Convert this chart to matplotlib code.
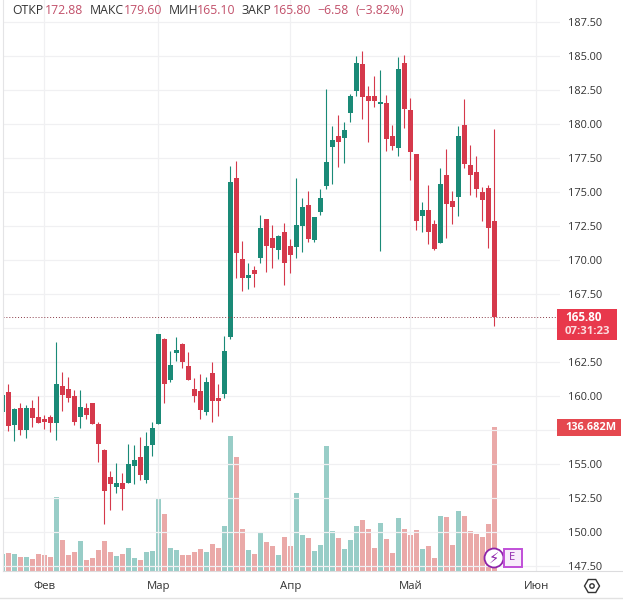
import matplotlib
matplotlib.use('Agg')
import matplotlib.pyplot as plt
from matplotlib.lines import Line2D
from matplotlib.patches import Circle, Rectangle, RegularPolygon

# daily candles, first one is cut by the left edge of the chart
opens = [158.82, 160.25, 157.84, 159.07, 157.50, 159.07, 158.41, 158.26, 158.41, 158.01, 160.69, 160.47, 159.95, 158.45, 159.07, 159.44, 157.94, 156.00, 153.99, 153.30, 153.55, 153.55, 154.85, 155.46, 153.82, 156.39, 157.94, 164.15, 161.15, 163.16, 163.80, 162.18, 160.47, 160.32, 158.82, 161.64, 159.83, 160.12, 164.34, 176.02, 170.06, 168.69, 169.25, 170.16, 173.00, 171.61, 170.72, 172.05, 171.02, 170.97, 172.51, 174.01, 171.46, 173.52, 175.43, 178.33, 179.09, 178.99, 180.80, 182.45, 184.41, 182.06, 182.06, 181.49, 181.54, 179.11, 178.25, 184.48, 181.00, 177.79, 173.25, 173.64, 172.64, 171.26, 176.24, 174.30, 174.65, 179.92, 176.98, 176.44, 174.99, 175.26, 172.88]
highs = [160.30, 160.86, 159.07, 159.44, 159.29, 159.68, 159.95, 158.58, 158.58, 163.95, 161.74, 161.35, 160.42, 160.42, 159.44, 159.44, 158.09, 156.05, 154.43, 155.02, 154.28, 156.42, 156.34, 156.96, 157.30, 158.04, 164.54, 164.24, 163.29, 164.32, 163.90, 163.19, 161.28, 161.57, 161.35, 162.45, 160.83, 164.37, 176.90, 177.27, 171.38, 169.74, 169.52, 173.30, 173.00, 172.56, 171.83, 172.68, 171.53, 176.02, 174.55, 175.04, 173.18, 175.19, 182.57, 179.85, 180.63, 180.14, 182.20, 185.00, 185.37, 182.79, 183.50, 183.97, 182.10, 179.92, 184.90, 185.05, 181.88, 177.79, 174.25, 175.48, 172.93, 176.73, 178.13, 175.06, 179.85, 181.83, 178.45, 177.64, 175.33, 175.50, 179.60]
lows = [158.60, 157.42, 156.69, 157.13, 156.88, 157.72, 158.01, 157.57, 157.35, 156.76, 158.90, 159.56, 157.87, 157.65, 158.31, 157.91, 155.14, 150.58, 151.59, 152.86, 151.61, 153.55, 153.52, 153.79, 153.55, 155.58, 157.94, 159.48, 160.98, 162.55, 162.06, 161.15, 159.56, 158.31, 158.60, 158.09, 158.53, 159.85, 164.19, 168.69, 167.73, 167.88, 168.02, 169.79, 169.13, 169.42, 170.08, 168.15, 169.05, 170.16, 170.60, 171.34, 171.34, 173.32, 175.24, 175.60, 176.85, 177.15, 180.14, 182.08, 180.39, 178.69, 181.27, 170.67, 178.03, 178.11, 177.66, 179.72, 175.90, 172.22, 172.07, 171.16, 170.72, 171.21, 171.63, 172.66, 173.25, 176.78, 174.79, 174.65, 172.88, 170.89, 165.10]
closes = [160.05, 157.79, 159.02, 157.50, 159.07, 158.38, 158.01, 158.06, 158.01, 160.83, 160.07, 159.85, 158.09, 159.14, 158.60, 157.94, 156.47, 153.01, 153.52, 153.55, 153.13, 154.97, 155.24, 154.19, 156.27, 157.60, 164.54, 160.88, 162.23, 163.34, 162.50, 161.18, 160.00, 158.97, 160.98, 159.63, 159.63, 163.26, 175.73, 170.53, 168.69, 168.88, 168.98, 172.34, 171.02, 170.87, 171.75, 169.79, 170.35, 172.56, 173.89, 171.56, 173.15, 174.52, 177.20, 178.79, 178.67, 179.53, 182.06, 184.48, 182.01, 181.71, 181.69, 181.61, 178.92, 178.40, 184.04, 181.12, 177.96, 172.88, 173.64, 172.07, 170.80, 175.58, 174.13, 173.91, 179.11, 177.08, 176.27, 175.24, 174.43, 172.37, 165.80]
volumes = [15.8, 17.1, 16.1, 13.6, 13.6, 11.4, 16.1, 15.2, 13.6, 70.2, 29.4, 15.2, 18.0, 28.5, 10.4, 12.3, 19.9, 28.5, 18.0, 14.2, 16.1, 21.8, 12.3, 10.4, 18.0, 19.0, 68.3, 54.1, 21.8, 19.9, 15.2, 15.2, 18.0, 20.9, 18.0, 25.6, 21.8, 42.7, 128.1, 108.2, 39.9, 19.9, 16.1, 37.0, 27.5, 23.7, 15.2, 32.3, 23.7, 74.0, 34.2, 31.3, 19.0, 24.7, 118.7, 38.0, 31.3, 20.9, 29.4, 42.7, 48.4, 39.9, 21.8, 45.6, 30.4, 17.1, 50.3, 39.9, 34.2, 38.9, 20.9, 23.7, 12.3, 52.2, 51.3, 24.7, 57.0, 52.2, 38.0, 35.1, 32.3, 44.6, 136.682]
is_up = [1, 0, 1, 0, 1, 0, 0, 0, 0, 1, 0, 0, 0, 1, 0, 0, 0, 0, 0, 1, 0, 1, 1, 0, 1, 1, 1, 0, 1, 1, 0, 0, 0, 0, 1, 0, 0, 1, 1, 0, 0, 1, 0, 1, 0, 0, 1, 0, 0, 1, 1, 0, 1, 1, 1, 1, 0, 1, 1, 1, 0, 0, 0, 1, 0, 0, 1, 0, 0, 0, 1, 0, 0, 1, 0, 0, 1, 0, 0, 0, 0, 0, 0]

price_ticks = [147.5, 150, 152.5, 155, 157.5, 160, 162.5, 165, 167.5, 170, 172.5, 175, 177.5, 180, 182.5, 185, 187.5]
price_labels = ['147.50', '150.00', '152.50', '155.00', '', '160.00', '162.50', '', '167.50', '170.00', '172.50', '175.00', '177.50', '180.00', '182.50', '185.00', '187.50']
month_ticks = [6, 25, 47, 67, 88]
month_labels = ['Фев', 'Мар', 'Апр', 'Май', 'Июн']
last_price = 165.80

GREEN = '#1a8a77'
RED = '#d5394b'
GREEN_VOL = '#98cdc7'
RED_VOL = '#eaa9a8'
GRID = '#f0f0f2'
TEXT = '#333333'
PINK = '#c2506a'
PURPLE = '#8e24aa'
FONT = 'Open Sans'

W, H = 623, 600
plt.rcParams['font.family'] = [FONT, 'DejaVu Sans']


def fx(px):
    return px / W


def fy(py):
    return 1 - py / H


fig = plt.figure(figsize=(W / 100, H / 100), dpi=100, facecolor='white')
pos = [fx(3), fy(571), fx(557), 571 / H]

ax_vol = fig.add_axes(pos, zorder=0)
ax = fig.add_axes(pos, zorder=0.5)
ax.patch.set_alpha(0)

x = [i - 1 for i in range(len(opens))]
colors = [GREEN if u else RED for u in is_up]
vol_colors = [GREEN_VOL if u else RED_VOL for u in is_up]

ax_vol.bar(x, volumes, width=5 / 6, color=vol_colors, linewidth=0)
ax_vol.set_ylim(0, 542)
ax_vol.set_xlim(-0.888, 91.945)
ax_vol.axis('off')

bottoms = [min(o, c) for o, c in zip(opens, closes)]
heights = [abs(c - o) for o, c in zip(opens, closes)]
ax.vlines(x, lows, highs, colors=colors, linewidth=0.8)
ax.bar(x, heights, bottom=bottoms, width=5 / 6, color=colors, linewidth=0)
ax.axhline(last_price, color='#8a3b48', linewidth=0.7, linestyle=(0, (1, 2)), zorder=1)

ax.set_xlim(-0.888, 91.945)
ax.set_ylim(147.10, 189.12)
ax.set_axisbelow(True)
ax.grid(True, color=GRID, linewidth=0.9)
ax.yaxis.tick_right()
ax.set_yticks(price_ticks)
ax.set_yticklabels(price_labels, fontsize=7.9, color=TEXT)
ax.set_xticks(month_ticks)
ax.set_xticklabels(month_labels, fontsize=8.2, color=TEXT)
ax.tick_params(axis='y', length=0, pad=6)
ax.tick_params(axis='x', length=0, pad=7)
for side in ['top', 'right', 'bottom']:
    ax.spines[side].set_visible(False)
ax.spines['left'].set_color('#e4e4e6')

# lines around the chart that run past the axes
fig.add_artist(Line2D([fx(3), 1], [fy(571), fy(571)], color='#dcdcde', linewidth=0.8))
fig.add_artist(Line2D([0, 1], [fy(597.5), fy(597.5)], color='#e2e2e2', linewidth=1))

# header
header = [(12, 'ОТКР', TEXT), (45, '172.88', PINK), (90, 'МАКС', TEXT), (124, '179.60', PINK),
          (169, 'МИН', TEXT), (197, '165.10', PINK), (242, 'ЗАКР', TEXT), (273, '165.80', PINK),
          (317, '−6.58', PINK), (355, '(−3.82%)', PINK)]
for px, txt, col in header:
    fig.text(fx(px), fy(10.5), txt, color=col, fontsize=8.8, ha='left', va='center')

# price tags on the scale
fig.add_artist(Rectangle((fx(557), fy(340)), 60 / W, 31 / H, transform=fig.transFigure, color='#e8384c', linewidth=0, zorder=1))
fig.text(fx(565), fy(317.5), '165.80', color='white', fontsize=8.4, fontweight='bold', ha='left', va='center')
fig.text(fx(565), fy(332), '07:31:23', color='#fbdde0', fontsize=8.2, fontweight='bold', ha='left', va='center')
fig.add_artist(Rectangle((fx(557), fy(436)), 64 / W, 17 / H, transform=fig.transFigure, color='#e5484f', linewidth=0, zorder=1))
fig.text(fx(565), fy(427.5), '136.682M', color='white', fontsize=7.9, fontweight='bold', ha='left', va='center')

# event badges, circle in inches so it stays round
trans = fig.dpi_scale_trans
fig.add_artist(Circle((494 / 100, (H - 558) / 100), 0.095, transform=trans, facecolor='white', edgecolor=PURPLE, linewidth=1.3, zorder=1))
fig.text(fx(494), fy(558), '⚡', color=PURPLE, fontsize=10.5, family='DejaVu Sans', ha='center', va='center')
fig.add_artist(Rectangle((fx(503.5), fy(567)), 18 / W, 18 / H, transform=fig.transFigure, facecolor='#f8ecfb', edgecolor='#c04fd8', linewidth=1.4, zorder=1))
fig.text(fx(512), fy(558), 'E', color=PURPLE, fontsize=8, ha='center', va='center')

# settings icon
fig.add_artist(RegularPolygon((592 / 100, (H - 586) / 100), 6, radius=0.075, orientation=1.5708, transform=trans, facecolor='white', edgecolor=TEXT, linewidth=1, zorder=1))
fig.add_artist(Circle((592 / 100, (H - 586) / 100), 0.022, transform=trans, facecolor='white', edgecolor=TEXT, linewidth=1, zorder=1))

fig.savefig('out.png', dpi=100)
